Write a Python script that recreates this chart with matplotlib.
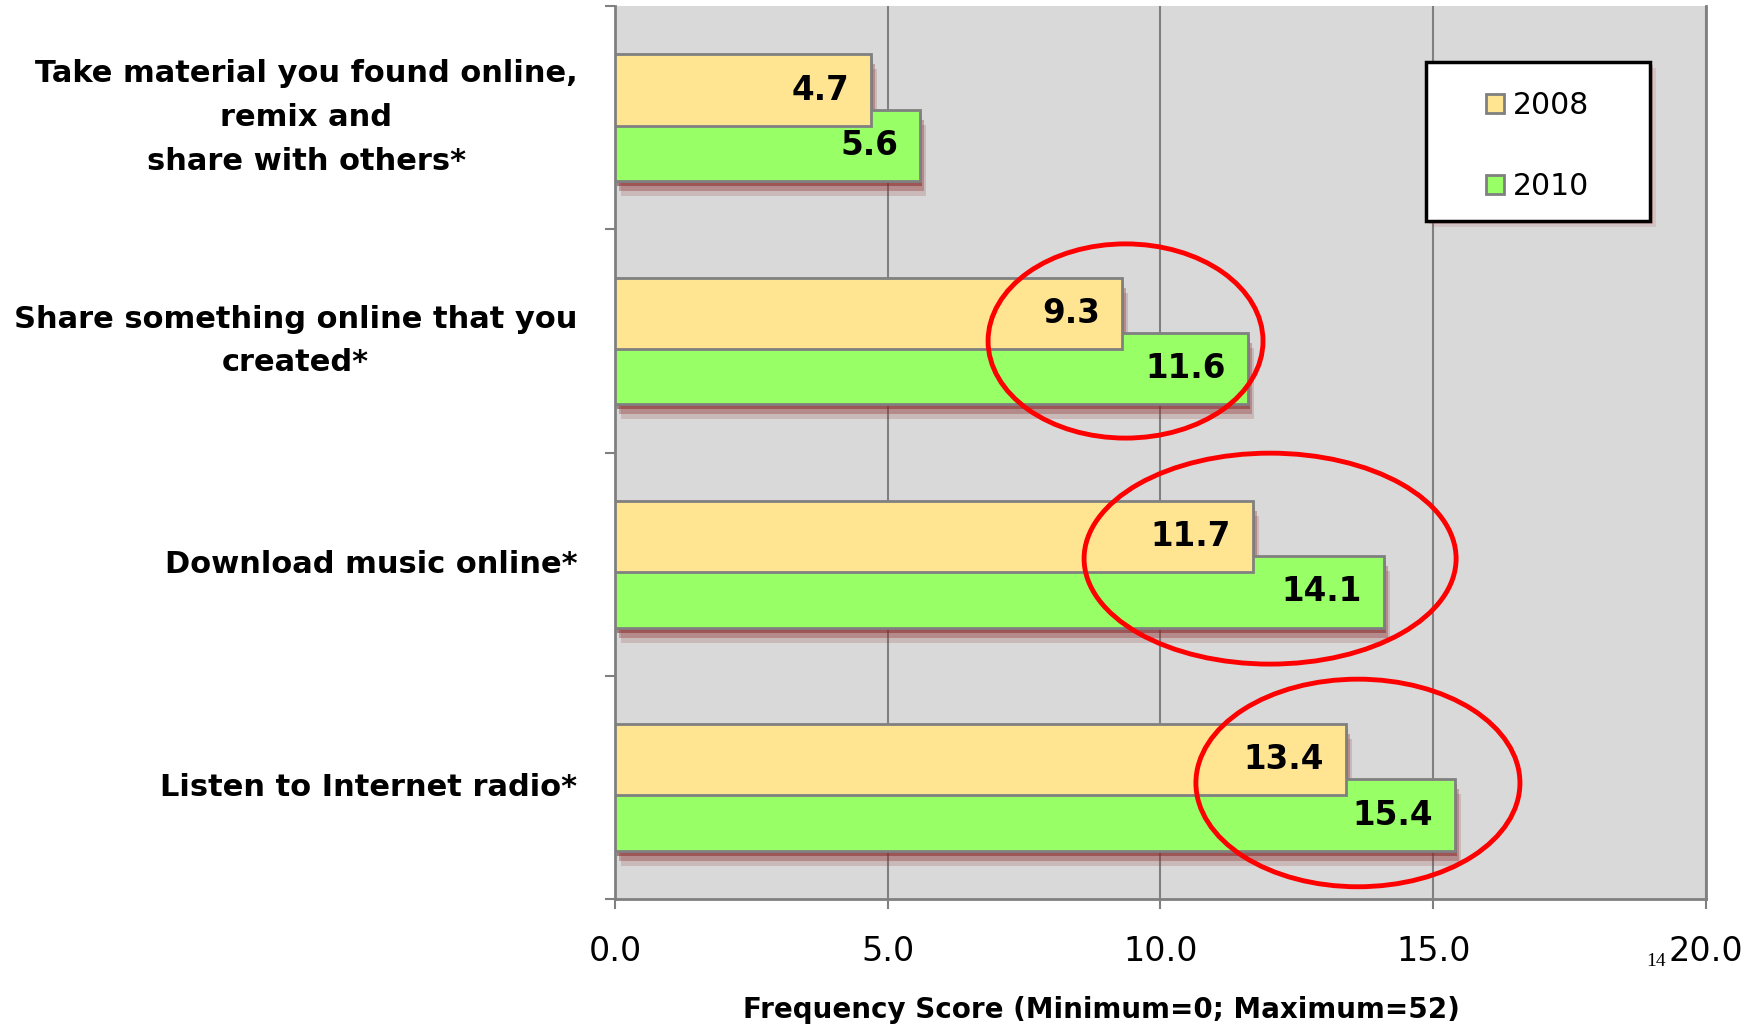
import matplotlib
matplotlib.use("Agg")
import matplotlib.pyplot as plt
from matplotlib.patches import Ellipse, Rectangle, Patch
from matplotlib.transforms import ScaledTranslation
import numpy as np

# data
categories = ["Take material you found online,\nremix and\nshare with others*",
              "Share something online that you\ncreated*",
              "Download music online*",
              "Listen to Internet radio*"]
vals_2008 = [4.7, 9.3, 11.7, 13.4]
vals_2010 = [5.6, 11.6, 14.1, 15.4]
years = ["2008", "2010"]
xticks = [0, 5, 10, 15, 20]

# red highlight circles (center x, center y, width, height) in data units
circles = [(9.36, 1.00, 5.04, 0.87),
           (12.01, 1.975, 6.82, 0.945),
           (13.62, 2.98, 5.94, 0.93)]

yellow = "#FFE591"
green = "#99FF66"
edge = "#808080"

plt.rcParams['font.family'] = ['DejaVu Sans']

fig = plt.figure(figsize=(17.56, 10.27), dpi=100)
ax = fig.add_axes([0.3502, 0.1246, 0.6213, 0.8694])
ax.set_facecolor("#D9D9D9")

y = np.arange(len(categories))
off = 0.124
h = 0.32

# soft reddish drop shadows under the bars
for dx, dy, a in [(2, 5, 0.55), (4, 10, 0.32), (6, 15, 0.18)]:
    tr = ax.transData + ScaledTranslation(dx / 100, -dy / 100, fig.dpi_scale_trans)
    for vals, yy in [(vals_2008, y - off), (vals_2010, y + off)]:
        sb = ax.barh(yy, vals, height=h, color="#8B2A2A", alpha=a, linewidth=0, zorder=2)
        for p in sb:
            p.set_transform(tr)

b10 = ax.barh(y + off, vals_2010, height=h, color=green, edgecolor=edge, linewidth=2, zorder=3)
b08 = ax.barh(y - off, vals_2008, height=h, color=yellow, edgecolor=edge, linewidth=2, zorder=4)

for bars, vals in [(b08, vals_2008), (b10, vals_2010)]:
    for p, v in zip(bars, vals):
        ax.annotate(f"{v:.1f}", (v, p.get_y() + p.get_height() / 2),
                    xytext=(-22, 0), textcoords="offset pixels",
                    ha="right", va="center", fontsize=23.5, fontweight="bold", zorder=6)

for cx, cy, w, hh in circles:
    ax.add_patch(Ellipse((cx, cy), w, hh, fill=False, edgecolor="#FF0000", linewidth=3.5, zorder=7))

ax.set_xlim(0, 20)
ax.set_ylim(len(categories) - 0.5, -0.5)
ax.set_xticks(xticks)
ax.set_xticklabels([f"{t:.1f}" for t in xticks], fontsize=24)
ax.set_yticks(y)
ax.set_yticklabels(categories, fontsize=22, fontweight="bold")
shift = ScaledTranslation(0, -0.04, fig.dpi_scale_trans)
for t in ax.get_yticklabels():
    t.set_multialignment("center")
    t.set_linespacing(1.65)
    t.set_va("center")
    t.set_transform(t.get_transform() + shift)
ax.set_yticks(np.arange(-0.5, len(categories)), minor=True)
ax.tick_params(axis="y", which="major", length=0, pad=27)
ax.tick_params(axis="y", which="minor", length=7, width=1.5, color=edge)
ax.tick_params(axis="x", length=7, width=1.5, color=edge, pad=19)

ax.set_axisbelow(True)
ax.grid(axis="x", color=edge, linewidth=1.5)
ax.spines["top"].set_visible(False)
for s in ["left", "bottom", "right"]:
    ax.spines[s].set_color(edge)
    ax.spines[s].set_linewidth(2)

# legend box with shadow
lb = Rectangle((0.743, 0.759), 0.206, 0.178, transform=ax.transAxes,
               facecolor="white", edgecolor="black", linewidth=2.5, zorder=8)
ax.add_patch(lb)
for dx, dy, a in [(3, 3, 0.25), (6, 6, 0.15)]:
    sh = Rectangle((0.743, 0.759), 0.206, 0.178, facecolor="#B05050", alpha=a, linewidth=0, zorder=7.5,
                   transform=ax.transAxes + ScaledTranslation(dx / 100, -dy / 100, fig.dpi_scale_trans))
    ax.add_patch(sh)
handles = [Patch(facecolor=yellow, edgecolor=edge, linewidth=2),
           Patch(facecolor=green, edgecolor=edge, linewidth=2)]
leg = ax.legend(handles, years, loc="center", bbox_to_anchor=(0.846, 0.843), frameon=False,
                fontsize=21.5, handlelength=0.6, handleheight=0.6, handletextpad=0.3,
                labelspacing=1.75)
leg.set_zorder(9)

fig.text(0.627, 0.0165, "Frequency Score (Minimum=0; Maximum=52)", ha="center", va="center",
         fontsize=20, fontweight="bold")
fig.text(0.943, 0.064, "14", ha="center", va="center", fontsize=14, family="Liberation Serif")

fig.savefig("out.png", dpi=100)
